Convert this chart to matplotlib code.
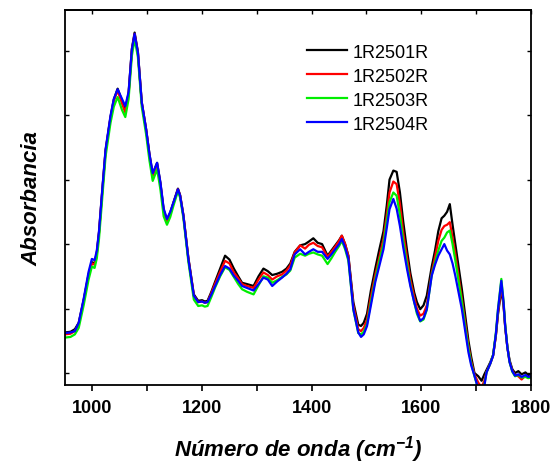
import matplotlib
matplotlib.use("Agg")
import matplotlib.pyplot as plt
from matplotlib.ticker import MultipleLocator

plt.rcParams["font.family"] = ["Liberation Sans", "DejaVu Sans"]
plt.rcParams["mathtext.fontset"] = "custom"
plt.rcParams["mathtext.bf"] = "Liberation Sans:italic:bold"
plt.rcParams["mathtext.rm"] = "Liberation Sans:italic:bold"

# Wavenumber grid (cm-1)
wavenumber = [
    950, 960, 968, 975, 984, 993, 999, 1004, 1008, 1012, 1018, 1024, 1033, 1039,
    1046, 1054, 1060, 1066, 1072, 1077, 1083, 1090, 1098, 1104, 1110, 1118, 1124,
    1130, 1136, 1142, 1148, 1156, 1160, 1166, 1175, 1185, 1193, 1200, 1205, 1210,
    1217, 1224, 1233, 1242, 1250, 1258, 1266, 1273, 1282, 1294, 1303, 1312, 1320,
    1328, 1337, 1346, 1354, 1361, 1369, 1379, 1388, 1395, 1403, 1411, 1419, 1429,
    1436, 1443, 1450, 1455, 1461, 1467, 1476, 1485, 1490, 1495, 1501, 1508, 1516,
    1523, 1531, 1537, 1542, 1549, 1555, 1561, 1567, 1574, 1580, 1587, 1592, 1598,
    1604, 1610, 1619, 1625, 1631, 1637, 1642, 1647, 1652, 1657, 1662, 1668, 1674,
    1680, 1686, 1691, 1697, 1704, 1710, 1715, 1719, 1726, 1731, 1736, 1740, 1746,
    1750, 1753, 1757, 1761, 1766, 1771, 1777, 1783, 1790, 1795, 1800,
]

abs_2501 = [
    0.163, 0.164, 0.168, 0.178, 0.213, 0.253, 0.272, 0.270, 0.287, 0.318, 0.383, 0.445, 0.497, 0.524,
    0.541, 0.522, 0.508, 0.534, 0.603, 0.628, 0.598, 0.520, 0.478, 0.440, 0.408, 0.426, 0.395,
    0.353, 0.337, 0.349, 0.365, 0.386, 0.376, 0.345, 0.279, 0.222, 0.212, 0.213, 0.211, 0.212,
    0.226, 0.242, 0.262, 0.282, 0.276, 0.262, 0.250, 0.240, 0.238, 0.235, 0.250, 0.262, 0.258,
    0.252, 0.254, 0.257, 0.262, 0.270, 0.288, 0.298, 0.300, 0.304, 0.309, 0.302, 0.300, 0.282,
    0.290, 0.298, 0.306, 0.313, 0.300, 0.282, 0.210, 0.175, 0.173, 0.178, 0.192, 0.228, 0.262,
    0.290, 0.320, 0.360, 0.400, 0.414, 0.412, 0.380, 0.335, 0.290, 0.255, 0.225, 0.210, 0.199,
    0.205, 0.220, 0.265, 0.290, 0.320, 0.340, 0.344, 0.350, 0.362, 0.330, 0.300, 0.265, 0.230,
    0.190, 0.150, 0.125, 0.100, 0.095, 0.088, 0.098, 0.105, 0.117, 0.128, 0.158, 0.192, 0.230,
    0.205, 0.172, 0.140, 0.120, 0.106, 0.100, 0.103, 0.098, 0.101, 0.097, 0.098,
]

abs_2502 = [
    0.160, 0.161, 0.165, 0.176, 0.212, 0.252, 0.270, 0.268, 0.285, 0.317, 0.382, 0.444, 0.496, 0.522,
    0.538, 0.518, 0.504, 0.532, 0.600, 0.626, 0.596, 0.519, 0.477, 0.438, 0.406, 0.424, 0.393,
    0.351, 0.335, 0.347, 0.364, 0.385, 0.375, 0.344, 0.278, 0.220, 0.210, 0.211, 0.209, 0.210,
    0.224, 0.239, 0.257, 0.274, 0.270, 0.256, 0.247, 0.238, 0.235, 0.232, 0.245, 0.256, 0.252,
    0.245, 0.250, 0.253, 0.259, 0.267, 0.287, 0.298, 0.293, 0.299, 0.302, 0.297, 0.295, 0.280,
    0.288, 0.296, 0.305, 0.313, 0.300, 0.281, 0.205, 0.168, 0.165, 0.170, 0.183, 0.218, 0.252,
    0.278, 0.308, 0.345, 0.380, 0.397, 0.393, 0.362, 0.318, 0.278, 0.245, 0.218, 0.200, 0.189,
    0.192, 0.205, 0.255, 0.280, 0.305, 0.322, 0.328, 0.330, 0.334, 0.310, 0.285, 0.250, 0.215,
    0.178, 0.142, 0.118, 0.098, 0.085, 0.078, 0.088, 0.102, 0.115, 0.127, 0.158, 0.194, 0.235,
    0.207, 0.172, 0.140, 0.118, 0.104, 0.097, 0.095, 0.090, 0.096, 0.093, 0.094,
]

abs_2503 = [
    0.155, 0.156, 0.160, 0.170, 0.205, 0.245, 0.265, 0.263, 0.278, 0.308, 0.372, 0.436, 0.488, 0.513,
    0.528, 0.508, 0.497, 0.525, 0.592, 0.618, 0.590, 0.513, 0.470, 0.430, 0.398, 0.416, 0.385,
    0.343, 0.330, 0.342, 0.360, 0.382, 0.372, 0.340, 0.273, 0.214, 0.204, 0.205, 0.203, 0.204,
    0.218, 0.233, 0.250, 0.264, 0.260, 0.249, 0.238, 0.230, 0.226, 0.222, 0.236, 0.250, 0.248,
    0.240, 0.244, 0.249, 0.253, 0.259, 0.279, 0.285, 0.282, 0.285, 0.287, 0.284, 0.282, 0.269,
    0.278, 0.288, 0.297, 0.305, 0.292, 0.274, 0.198, 0.162, 0.160, 0.164, 0.176, 0.210, 0.245,
    0.272, 0.300, 0.335, 0.365, 0.380, 0.375, 0.345, 0.305, 0.268, 0.238, 0.210, 0.192, 0.180,
    0.183, 0.198, 0.252, 0.272, 0.290, 0.305, 0.310, 0.318, 0.321, 0.300, 0.275, 0.242, 0.210,
    0.172, 0.138, 0.115, 0.095, 0.075, 0.070, 0.082, 0.101, 0.115, 0.128, 0.162, 0.200, 0.246,
    0.212, 0.175, 0.141, 0.117, 0.102, 0.095, 0.097, 0.093, 0.094, 0.092, 0.093,
]

abs_2504 = [
    0.162, 0.163, 0.165, 0.178, 0.215, 0.257, 0.277, 0.275, 0.290, 0.320, 0.385, 0.447, 0.499, 0.525,
    0.540, 0.525, 0.514, 0.536, 0.602, 0.626, 0.597, 0.520, 0.478, 0.440, 0.410, 0.426, 0.396,
    0.355, 0.339, 0.350, 0.365, 0.385, 0.375, 0.344, 0.277, 0.220, 0.210, 0.211, 0.209, 0.210,
    0.222, 0.235, 0.252, 0.266, 0.262, 0.251, 0.243, 0.235, 0.232, 0.228, 0.238, 0.248, 0.245,
    0.235, 0.242, 0.248, 0.254, 0.261, 0.284, 0.292, 0.284, 0.288, 0.292, 0.288, 0.288, 0.277,
    0.284, 0.292, 0.300, 0.308, 0.295, 0.277, 0.199, 0.163, 0.156, 0.160, 0.173, 0.205, 0.241,
    0.265, 0.292, 0.325, 0.354, 0.370, 0.355, 0.328, 0.295, 0.261, 0.235, 0.210, 0.195, 0.181,
    0.185, 0.199, 0.251, 0.268, 0.282, 0.292, 0.300, 0.290, 0.284, 0.270, 0.251, 0.225, 0.199,
    0.165, 0.132, 0.112, 0.096, 0.075, 0.068, 0.080, 0.101, 0.115, 0.127, 0.160, 0.199, 0.243,
    0.210, 0.173, 0.140, 0.117, 0.103, 0.096, 0.098, 0.094, 0.097, 0.094, 0.095,
]

series_names = ["1R2501R", "1R2502R", "1R2503R", "1R2504R"]
series_colors = ["#000000", "#ff0000", "#00ee00", "#0000ff"]

fig = plt.figure(figsize=(5.58, 4.64), dpi=100)
ax = fig.add_axes([0.1165, 0.168, 0.835, 0.808])

for vals, name, col in zip([abs_2501, abs_2502, abs_2503, abs_2504], series_names, series_colors):
    ax.plot(wavenumber, vals, color=col, linewidth=1.6, label=name)

ax.set_xlim(950, 1800)
ax.set_ylim(0.0814, 0.6628)

# bottom axis: labelled every 200, minor every 100, ticks outwards
ax.xaxis.set_major_locator(MultipleLocator(200))
ax.xaxis.set_minor_locator(MultipleLocator(100))
ax.tick_params(axis="x", which="both", direction="out", length=4, width=1.2,
               labelsize=13, pad=6)
for lbl in ax.get_xticklabels():
    lbl.set_fontweight("bold")

# left/right: inward ticks, no labels
ax.yaxis.set_major_locator(MultipleLocator(0.1))
ax.tick_params(axis="y", which="both", direction="in", length=3, width=1,
               left=True, right=True, labelleft=False)

# top: inward ticks every 100
top = ax.secondary_xaxis("top")
top.xaxis.set_major_locator(MultipleLocator(100))
top.tick_params(axis="x", direction="in", length=3, width=1, labeltop=False)
top.spines["top"].set_linewidth(1.3)

for sp in ax.spines.values():
    sp.set_linewidth(1.3)

ax.set_xlabel("Número de onda (cm$^{\\mathbf{-1}}$)", fontsize=16, fontweight="bold",
              fontstyle="italic", labelpad=12)
ax.set_ylabel("Absorbancia", fontsize=16, fontweight="bold", fontstyle="italic",
              labelpad=16)

ax.legend(loc="upper left", bbox_to_anchor=(0.504, 0.93), frameon=False,
          fontsize=13, handlelength=2.2, handletextpad=0.33, labelspacing=0.39,
          borderaxespad=0)

fig.savefig("out.png", dpi=100)
